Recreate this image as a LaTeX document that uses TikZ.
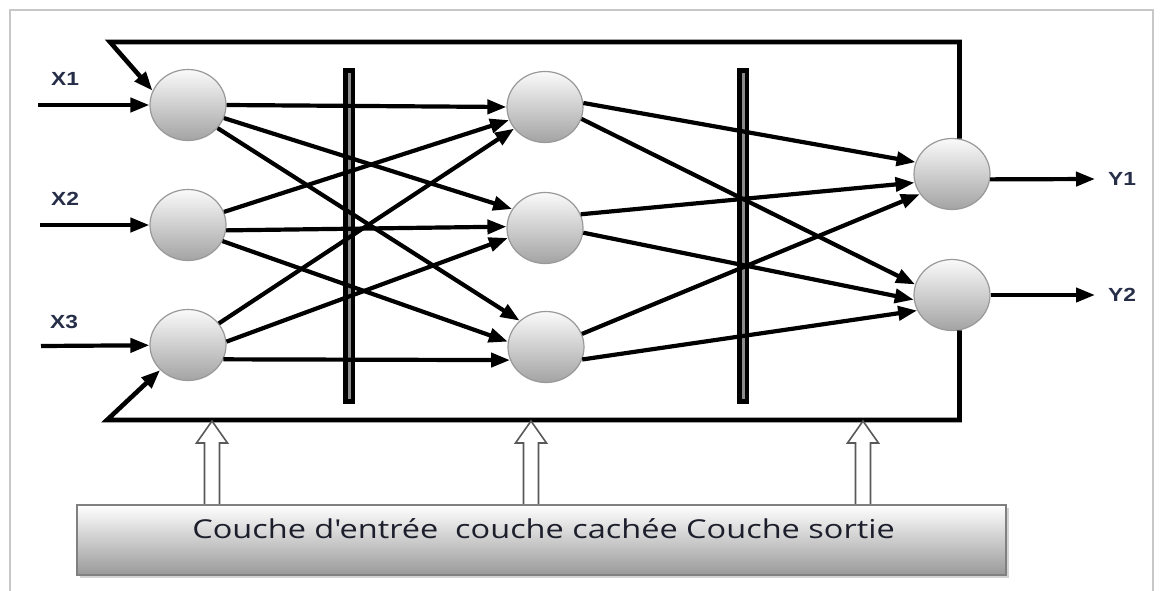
\documentclass[tikz,border=0pt]{standalone}
\usepackage{fontspec}
\setmainfont{Liberation Sans}
\newfontfamily\boxfont{Open Sans}[Ligatures=TeXOff]
\usetikzlibrary{arrows.meta,shapes.geometric,shadows,calc}
\definecolor{labelink}{RGB}{38,46,72}
\definecolor{boxink}{RGB}{28,30,44}
\begin{document}
\begin{tikzpicture}[x=1pt,y=-1pt,
  neuron/.style={ellipse,minimum width=76pt,minimum height=71pt,inner sep=0pt,
    draw=black!40,line width=1.2pt,top color=black!2,bottom color=black!36},
  link/.style={line width=4.2pt,-{Triangle[length=19pt,width=14pt]}},
  loopline/.style={line width=4.6pt,line join=miter,-{Triangle[length=19pt,width=14pt]}},
  barbox/.style={draw=black,line width=4.5pt,fill=black!45,minimum width=7.5pt,
    minimum height=331pt,inner sep=0pt},
  iolabel/.style={font=\fontsize{19}{20}\selectfont\bfseries,text=labelink,inner sep=0pt},
  hollow/.style={draw=black!65,line width=1.6pt,fill=white,line join=miter},
  layerbox/.style={minimum width=929pt,minimum height=70pt,inner sep=0pt,
    draw=black!50,line width=1.5pt,top color=white,bottom color=black!40,
    drop shadow={shadow xshift=2.5pt,shadow yshift=-2.5pt,opacity=0.35}}
]
\useasboundingbox (0,0) rectangle (1160,590);
% thin outer frame
\draw[black!22,line width=1.5pt] (10,592) -- (10,10) -- (1153,10) -- (1153,592);

% weight barriers
\node[barbox] (bar1) at (349,236) {};
\node[barbox] (bar2) at (743,236) {};

% neurons
\node[neuron] (in1) at (188,105) {};
\node[neuron] (in2) at (188,225) {};
\node[neuron] (in3) at (188,345) {};
\node[neuron] (h1) at (545,107) {};
\node[neuron] (h2) at (545,228) {};
\node[neuron] (h3) at (546,347) {};
\node[neuron] (o1) at (952,174) {};
\node[neuron] (o2) at (952,295) {};

% input / output labels
\node[iolabel] (lx1) at (65,79) {\scalebox{1.2}[1]{X1}};
\node[iolabel] (lx2) at (65,199) {\scalebox{1.2}[1]{X2}};
\node[iolabel] (lx3) at (64,322) {\scalebox{1.2}[1]{X3}};
\node[iolabel] (ly1) at (1122,179) {\scalebox{1.2}[1]{Y1}};
\node[iolabel] (ly2) at (1122,295) {\scalebox{1.2}[1]{Y2}};

% inputs
\coordinate (x1in) at (38,105);
\coordinate (x2in) at (40,225);
\coordinate (x3in) at (41,346);
\draw[link] (x1in) -- (in1);
\draw[link] (x2in) -- (in2);
\draw[link] (x3in) -- (in3);

% outputs
\coordinate (y1out) at (1095,179);
\coordinate (y2out) at (1095,295);
\draw[link] (o1.-8) -- (y1out);
\draw[link] (o2.0) -- (y2out);

% input layer -> hidden layer
\draw[link] (in1.0) -- (h1.180);
\draw[link] (in1.-20) -- (h2.150);
\draw[link] (in1.-38) -- (h3.135);
\draw[link] (in2.20) -- (h1.200);
\draw[link] (in2.-8) -- (h2.178);
\draw[link] (in2.-25) -- (h3.172);
\draw[link] (in3.35) -- (h1.215);
\draw[link] (in3.5) -- (h2.195);
\draw[link] (in3.-22) -- (h3.200);

% hidden layer -> output layer
\draw[link] (h1.6) -- (o1.162);
\draw[link] (h1.-18) -- (o2.164);
\draw[link] (h2.21) -- (o1.193);
\draw[link] (h2.-7) -- (o2.187);
\draw[link] (h3.20) -- (o1.212);
\draw[link] (h3.-19) -- (o2.204);

% feedback loop around the network
\coordinate (loopTL) at (110,42);
\coordinate (loopBL) at (107,420);
\draw[loopline] (o1.78) |- (loopTL) -- (in1.158);
\draw[loopline] (o2.-78) |- (loopBL) -- (in3.222);

% hollow arrows from the layer box
\coordinate (up1) at (212,505);
\coordinate (up2) at (531,505);
\coordinate (up3) at (863,505);
\foreach \c in {up1,up2,up3}
  \draw[hollow] ($(\c)+(-7.5,0)$) -- ++(0,-62) -- ++(-8,0) -- ($(\c)+(0,-84)$)
    -- ($(\c)+(15.5,-62)$) -- ++(-8,0) -- ($(\c)+(7.5,0)$);

% layer caption box
\node[layerbox] (layers) at (541.5,540) {};
\node[font=\boxfont\fontsize{26}{30}\selectfont,text=boxink,inner sep=0pt,anchor=base]
  (layertext) at (543.5,538)
  {\scalebox{1.25}[1]{Couche d'entrée\ \ couche cachée Couche sortie}};
\end{tikzpicture}
\end{document}
